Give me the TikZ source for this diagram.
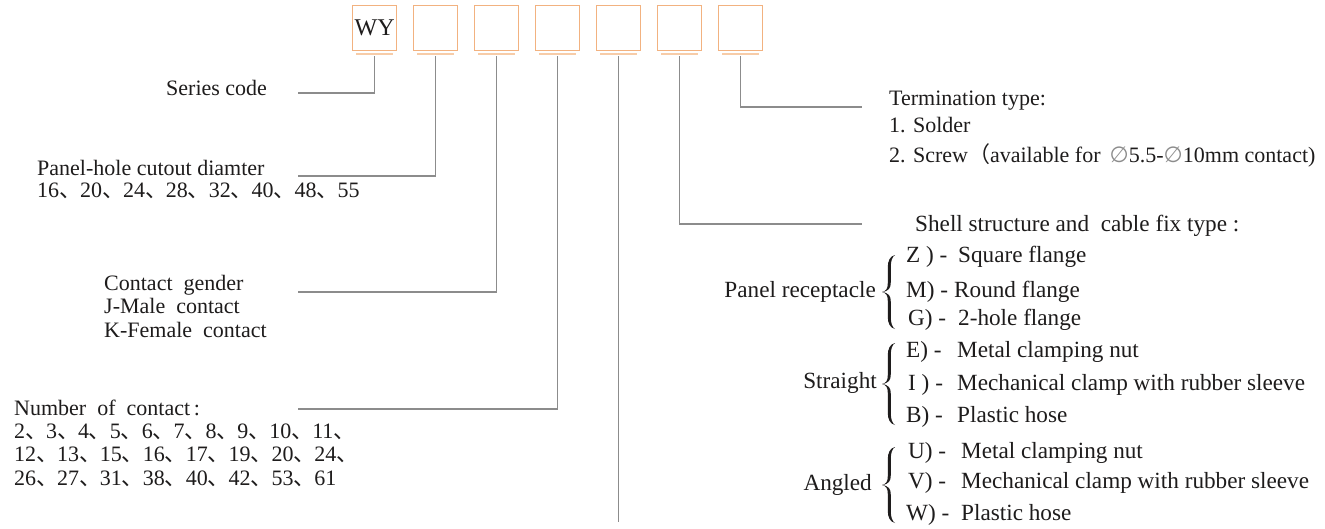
\documentclass[tikz,border=0pt]{standalone}
\usepackage{fontspec}
\setmainfont{Liberation Serif}
\newfontfamily\cjk{Noto Sans CJK SC}
\newfontfamily\dvs{DejaVu Sans}
\definecolor{boxc}{RGB}{242,178,128}
\definecolor{ulc}{RGB}{247,204,168}
\definecolor{leadc}{RGB}{140,140,140}
\definecolor{txtc}{RGB}{30,28,28}
\newcommand{\dn}{\makebox[0.95em][l]{\cjk 、}}
\newcommand{\rowcode}[2]{\makebox[#1][l]{#2}}
\newcommand{\dia}{{\dvs\color{leadc}∅}}
% curly brace: #1 centre coordinate, #2 half height
\newcommand{\curlyb}[2]{%
  \fill[txtc, shift={#1}]
    (6,-#2) .. controls (1,{-#2+1}) and (-1.2,{-#2+6}) .. (-1.2,{-#2+12})
    -- (-1.2,-9) .. controls (-1.2,-3) and (-3,-1) .. (-7,0)
    .. controls (-3,1) and (-1.2,3) .. (-1.2,9)
    -- (-1.2,{#2-12}) .. controls (-1.2,{#2-6}) and (1,{#2-1}) .. (6,#2)
    .. controls (3,{#2-2}) and (1.8,{#2-6}) .. (1.8,{#2-12})
    -- (1.8,10) .. controls (1.8,4) and (0,1) .. (-7,0)
    .. controls (0,-1) and (1.8,-4) .. (1.8,-10)
    -- (1.8,{-#2+12}) .. controls (1.8,{-#2+6}) and (3,{-#2+2}) .. (6,-#2) -- cycle;}
\begin{document}
\begin{tikzpicture}[x=1pt,y=-1pt,
  box/.style={draw=boxc, line width=1.2pt, minimum width=44pt, minimum height=45pt, inner sep=0pt, anchor=north west, text=txtc, font=\fontsize{24}{24}\selectfont},
  uline/.style={draw=ulc, line width=1.6pt},
  lead/.style={draw=leadc, line width=1.2pt},
  txt/.style={anchor=base west, inner sep=0pt, text=txtc, font=\fontsize{22}{24}\selectfont},
  txtb/.style={txt, font=\fontsize{23.2}{25}\selectfont},
  txte/.style={txtb, anchor=base east}]
\fill[white] (0,0) rectangle (1325,528);
\useasboundingbox (0,0) rectangle (1325,528);
% boxes
\node[box] (b1) at (352,5) {WY};
\node[box] (b2) at (413,5) {};
\node[box] (b3) at (474,5) {};
\node[box] (b4) at (535,5) {};
\node[box] (b5) at (596,5) {};
\node[box] (b6) at (657,5) {};
\node[box] (b7) at (718,5) {};
\foreach \b in {b1,b2,b3,b4,b5,b6,b7}{
  \draw[uline] ([xshift=4pt,yshift=-3pt]\b.south west) -- ([xshift=-4pt,yshift=-3pt]\b.south east);
}
% leader ends
\coordinate (e1) at (298,93);
\coordinate (e2) at (298,176);
\coordinate (e3) at (298,292);
\coordinate (e4) at (298,409);
\coordinate (e5) at (0,522);
\coordinate (e6) at (862,224);
\coordinate (e7) at (862,107);
\draw[lead] ([yshift=-5pt]b1.south) |- (e1);
\draw[lead] ([yshift=-5pt]b2.south) |- (e2);
\draw[lead] ([yshift=-5pt]b3.south) |- (e3);
\draw[lead] ([yshift=-5pt]b4.south) |- (e4);
\draw[lead] ([yshift=-5pt]b5.south) -- (b5.south |- e5);
\draw[lead] ([yshift=-5pt]b6.south) |- (e6);
\draw[lead] ([yshift=-5pt]b7.south) |- (e7);
% left texts
\node[txt] (series) at (166,95) {Series code};
\node[txt] (panel1) at (37,175) {Panel-hole cutout diamter};
\node[txt] (panel2) at (37,197) {16\dn 20\dn 24\dn 28\dn 32\dn 40\dn 48\dn 55};
\node[txt] (gen1) at (104,290) {Contact\ \ gender};
\node[txt] (gen2) at (104,313) {J-Male\ \ contact};
\node[txt] (gen3) at (104,337) {K-Female\ \ contact};
\node[txt] (num1) at (14,415) {Number\ \ of\ \ contact\,:};
\node[txt] (num2) at (14,438) {2\dn 3\dn 4\dn 5\dn 6\dn 7\dn 8\dn 9\dn 10\dn 11\dn};
\node[txt] (num3) at (14,461.5) {12\dn 13\dn 15\dn 16\dn 17\dn 19\dn 20\dn 24\dn};
\node[txt] (num4) at (14,485) {26\dn 27\dn 31\dn 38\dn 40\dn 42\dn 53\dn 61};
% termination
\node[txt] (term1) at (889,105) {Termination type:};
\node[txt] (term2) at (889,132) {1. Solder};
\node[txt] (term3) at (889,162) {2. Screw{\cjk （}available for\ \,\dia5.5-\dia10mm contact)};
% shell
\node[txtb] (shell) at (915,231) {Shell structure and\ \ cable fix type :};
\node[txte] (grp1) at (876,297) {Panel receptacle};
\node[txte] (grp2) at (877,388) {Straight};
\node[txte] (grp3) at (872,490) {Angled};
\curlyb{(889,292)}{37}
\curlyb{(889,384)}{41}
\curlyb{(889,485)}{38}
\node[txtb] (rz) at (906,262) {\rowcode{52pt}{Z ) -}Square flange};
\node[txtb] (rm) at (906,297) {\rowcode{48pt}{M) -}Round flange};
\node[txtb] (rg) at (908,325) {\rowcode{50pt}{G) -}2-hole flange};
\node[txtb] (re) at (906,357) {\rowcode{51pt}{E) -}Metal clamping nut};
\node[txtb] (ri) at (908,390) {\rowcode{49pt}{I ) -}Mechanical clamp with rubber sleeve};
\node[txtb] (rb) at (906,422) {\rowcode{51pt}{B) -}Plastic hose};
\node[txtb] (ru) at (908,458) {\rowcode{53pt}{U) -}Metal clamping nut};
\node[txtb] (rv) at (908,488) {\rowcode{53pt}{V) -}Mechanical clamp with rubber sleeve};
\node[txtb] (rw) at (906,520) {\rowcode{55pt}{W) -}Plastic hose};
\end{tikzpicture}
\end{document}
